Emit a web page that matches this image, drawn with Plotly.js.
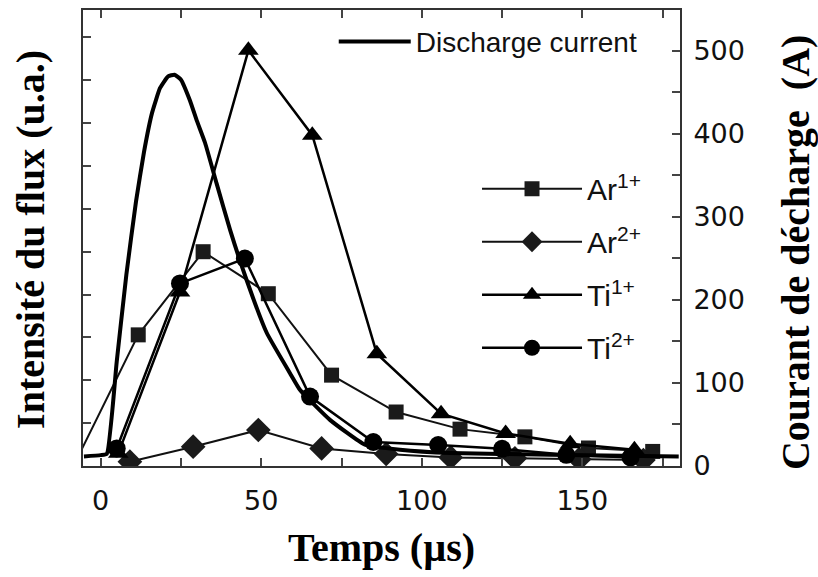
<!DOCTYPE html>
<html>
<head>
<meta charset="utf-8">
<script src="https://cdn.plot.ly/plotly-3.0.1.min.js"></script>
<style>html,body{margin:0;padding:0;background:#fff;}#chart{width:818px;height:577px;}</style>
</head>
<body>
<div id="chart"></div>
<script>
// Discharge current (right axis, A)
const currentT = [-5.2, 0, 1.9, 5, 8, 11, 13.5, 16, 18.5, 21, 23, 25, 27.8, 30, 32.5, 36.1, 40.3, 45.5, 51.7, 59, 62.1, 71.4, 82.3, 93.2, 108.8, 140, 180];
const currentA = [11, 12.5, 14, 125, 230, 318, 378, 425, 455, 469, 471, 465, 440, 415, 389, 340, 284, 223, 160, 111, 91, 55, 25, 19, 15, 13, 11];

// Ion fluxes (left axis, u.a.)
const ar1T = [-8, 11.7, 31.9, 52.2, 71.9, 92, 111.9, 132.1, 151.9, 171.9];
const ar1V = [3.5, 153, 250, 201, 106, 63, 43, 34, 21, 17];

const ar2T = [9.1, 28.8, 49.1, 68.8, 88.9, 109, 129, 149, 169];
const ar2V = [5, 22.5, 42, 20.5, 14, 10, 9, 8, 7];

const ti1T = [5.5, 24.7, 46, 65.9, 86, 106, 126.1, 146.2, 166.2];
const ti1V = [15, 203, 485, 386, 131, 61, 38, 26, 19];

const ti2T = [5, 24.7, 44.9, 65.2, 84.9, 105.1, 125, 145, 165];
const ti2V = [20.5, 213, 242, 81, 28, 24.5, 20, 13, 10];

const xTicks = [0, 50, 100, 150];
const seriesNames = ['Ar<sup>1+</sup>', 'Ar<sup>2+</sup>', 'Ti<sup>1+</sup>', 'Ti<sup>2+</sup>'];
const currentName = 'Discharge current';
const xTitle = 'Temps (µs)';
const yTitle = 'Intensité du flux (u.a.)';
const y2Title = 'Courant de décharge  (A)';

const mk = '#1a1a1a';
const traces = [
  {x: currentT, y: currentA, yaxis: 'y2', mode: 'lines', name: currentName, legend: 'legend',
   line: {color: '#000', width: 4, shape: 'spline', smoothing: 0.4}},
  {x: ar1T, y: ar1V, mode: 'lines+markers', name: seriesNames[0], legend: 'legend2', legendgroup: 'a1',
   line: {color: '#111', width: 2}, marker: {symbol: 'square', size: 15, color: mk}},
  {x: ar2T, y: ar2V, mode: 'lines+markers', name: seriesNames[1], legend: 'legend2', legendgroup: 'a2',
   line: {color: '#111', width: 2}, marker: {symbol: 'diamond', size: 19, color: mk}},
  {x: ti1T, y: ti1V, mode: 'lines+markers', name: seriesNames[2], legend: 'legend2', legendgroup: 't1',
   line: {color: '#000', width: 2.5}, marker: {symbol: 'triangle-up', size: 18, color: '#000'}},
  {x: ti2T, y: ti2V, mode: 'lines+markers', name: seriesNames[3], legend: 'legend2', legendgroup: 't2',
   line: {color: '#000', width: 2.5}, marker: {symbol: 'circle', size: 18, color: '#000'}}
];

const tickFont = {family: 'DejaVu Sans', size: 27, color: '#111'};
const titleFont = {family: 'Liberation Serif', size: 40, color: '#000', weight: 'bold'};

const layout = {
  width: 818, height: 577,
  margin: {l: 83, r: 138, t: 10, b: 111},
  paper_bgcolor: '#fff', plot_bgcolor: '#fff',
  showlegend: true,
  xaxis: {
    range: [-5.5, 180.4], tickvals: xTicks, ticks: 'inside', ticklen: 8, tickwidth: 2, tickcolor: '#444',
    minor: {dtick: 25, ticks: 'inside', ticklen: 8, tickwidth: 2, tickcolor: '#444'},
    showline: true, linecolor: '#333', linewidth: 2, mirror: 'allticks', showgrid: false, zeroline: false,
    tickfont: tickFont, ticklabelstandoff: 10,
    title: {text: xTitle, font: titleFont, standoff: 18}
  },
  yaxis: {
    range: [0, 532], dtick: 50, ticks: 'inside', ticklen: 8, tickwidth: 2, tickcolor: '#444',
    showticklabels: false, showline: true, linecolor: '#333', linewidth: 2, showgrid: false, zeroline: false,
    title: {text: ''}
  },
  yaxis2: {
    overlaying: 'y', side: 'right', range: [-0.6, 549], dtick: 100, ticks: 'inside', ticklen: 8, tickwidth: 2, tickcolor: '#444',
    minor: {dtick: 50, ticks: 'inside', ticklen: 8, tickwidth: 2, tickcolor: '#444'},
    showline: true, linecolor: '#333', linewidth: 2, showgrid: false, zeroline: false,
    tickfont: tickFont, ticklabelstandoff: 6,
    title: {text: ''}
  },
  annotations: [
    {text: yTitle, xref: 'paper', yref: 'paper', x: -0.087, y: 0.496, xanchor: 'center', yanchor: 'middle',
     textangle: -90, showarrow: false, font: titleFont},
    {text: y2Title, xref: 'paper', yref: 'paper', x: 1.1926, y: 0.469, xanchor: 'center', yanchor: 'middle',
     textangle: -90, showarrow: false, font: titleFont}
  ],
  legend: {
    x: 0.42, y: 0.985, xanchor: 'left', yanchor: 'top', bgcolor: 'rgba(0,0,0,0)',
    font: {family: 'Liberation Sans', size: 28, color: '#111'}, itemwidth: 72
  },
  legend2: {
    x: 0.66, y: 0.665, xanchor: 'left', yanchor: 'top', bgcolor: 'rgba(0,0,0,0)',
    font: {family: 'Liberation Sans', size: 30, color: '#111'}, itemwidth: 100, tracegroupgap: 11
  }
};

Plotly.newPlot('chart', traces, layout, {displayModeBar: false, staticPlot: true});
</script>
</body>
</html>
